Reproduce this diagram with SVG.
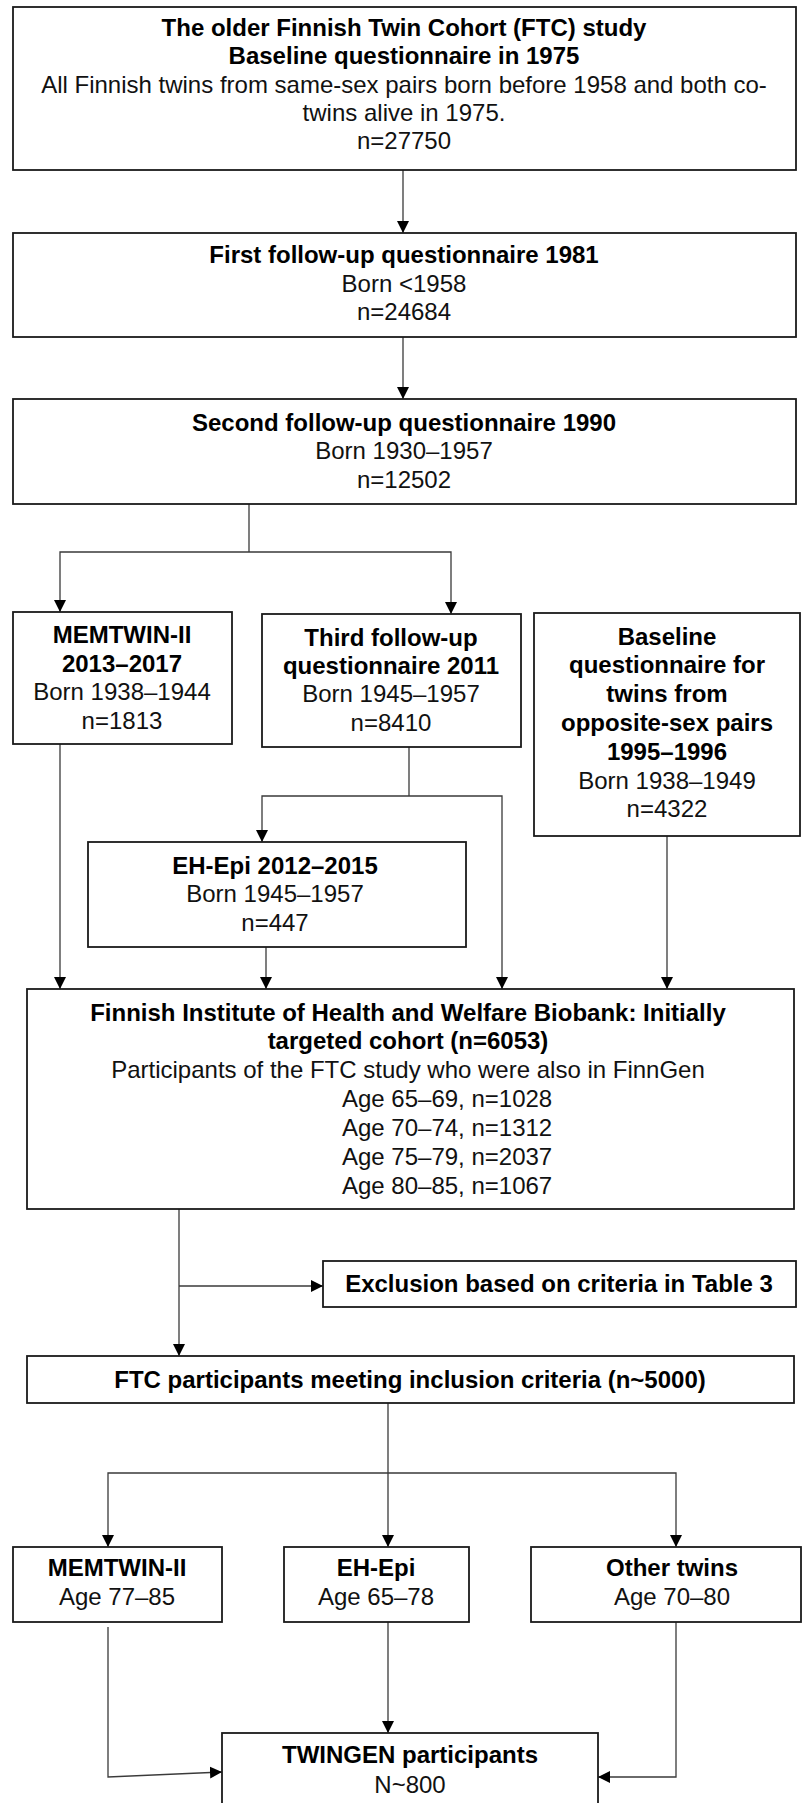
<svg xmlns="http://www.w3.org/2000/svg" width="806" height="1803" viewBox="0 0 806 1803">
<defs>
<style>
.box{fill:#fff;stroke:#1a1a1a;stroke-width:1.8}
.t{font-family:"Liberation Sans",Arial,sans-serif;font-size:24px;fill:#111;text-anchor:middle}
.b{font-weight:bold;fill:#000}
.l{text-anchor:start}
.c{fill:none;stroke:#3a3a3a;stroke-width:1.3}
</style>
<marker id="ah" markerUnits="userSpaceOnUse" markerWidth="12" markerHeight="12" viewBox="0 0 11 11" refX="11" refY="5.5" orient="auto">
<path d="M0,0 L11,5.5 L0,11 Z" fill="#000"/>
</marker>
</defs>
<rect width="806" height="1803" fill="#fff"/>

<g id="connectors">
<path class="c" d="M403,170 V233" marker-end="url(#ah)"/>
<path class="c" d="M403,337 V399" marker-end="url(#ah)"/>
<path class="c" d="M249,504 V552"/>
<path class="c" d="M249,552 H60 V612" marker-end="url(#ah)"/>
<path class="c" d="M249,552 H451 V614" marker-end="url(#ah)"/>
<path class="c" d="M60,744 V989" marker-end="url(#ah)"/>
<path class="c" d="M409,747 V796"/>
<path class="c" d="M409,796 H262 V842" marker-end="url(#ah)"/>
<path class="c" d="M409,796 H502 V989" marker-end="url(#ah)"/>
<path class="c" d="M266,947 V989" marker-end="url(#ah)"/>
<path class="c" d="M667,836 V989" marker-end="url(#ah)"/>
<path class="c" d="M179,1209 V1356" marker-end="url(#ah)"/>
<path class="c" d="M179,1286 H323" marker-end="url(#ah)"/>
<path class="c" d="M388,1403 V1473"/>
<path class="c" d="M388,1473 H108 V1547" marker-end="url(#ah)"/>
<path class="c" d="M388,1473 V1547" marker-end="url(#ah)"/>
<path class="c" d="M388,1473 H676 V1547" marker-end="url(#ah)"/>
<path class="c" d="M108,1627 V1777 L222,1772" marker-end="url(#ah)"/>
<path class="c" d="M388,1622 V1733" marker-end="url(#ah)"/>
<path class="c" d="M676,1622 V1777 H598" marker-end="url(#ah)"/>
</g>

<g id="baseline1975">
<rect class="box" x="13" y="7" width="783" height="163"/>
<text class="t b" x="404" y="36">The older Finnish Twin Cohort (FTC) study</text>
<text class="t b" x="404" y="64">Baseline questionnaire in 1975</text>
<text class="t" x="404" y="93">All Finnish twins from same-sex pairs born before 1958 and both co-</text>
<text class="t" x="404" y="121">twins alive in 1975.</text>
<text class="t" x="404" y="149">n=27750</text>
</g>

<g id="followup1981">
<rect class="box" x="13" y="233" width="783" height="104"/>
<text class="t b" x="404" y="263">First follow-up questionnaire 1981</text>
<text class="t" x="404" y="292">Born &lt;1958</text>
<text class="t" x="404" y="320">n=24684</text>
</g>

<g id="followup1990">
<rect class="box" x="13" y="399" width="783" height="105"/>
<text class="t b" x="404" y="431">Second follow-up questionnaire 1990</text>
<text class="t" x="404" y="459">Born 1930–1957</text>
<text class="t" x="404" y="488">n=12502</text>
</g>

<g id="memtwin1">
<rect class="box" x="13" y="612" width="219" height="132"/>
<text class="t b" x="122" y="643">MEMTWIN-II</text>
<text class="t b" x="122" y="672">2013–2017</text>
<text class="t" x="122" y="700">Born 1938–1944</text>
<text class="t" x="122" y="729">n=1813</text>
</g>

<g id="followup2011">
<rect class="box" x="262" y="614" width="259" height="133"/>
<text class="t b" x="391" y="646">Third follow-up</text>
<text class="t b" x="391" y="674">questionnaire 2011</text>
<text class="t" x="391" y="702">Born 1945–1957</text>
<text class="t" x="391" y="731">n=8410</text>
</g>

<g id="oppositesex">
<rect class="box" x="534" y="613" width="266" height="223"/>
<text class="t b" x="667" y="645">Baseline</text>
<text class="t b" x="667" y="673">questionnaire for</text>
<text class="t b" x="667" y="702">twins from</text>
<text class="t b" x="667" y="731">opposite-sex pairs</text>
<text class="t b" x="667" y="760">1995–1996</text>
<text class="t" x="667" y="789">Born 1938–1949</text>
<text class="t" x="667" y="817">n=4322</text>
</g>

<g id="ehepi1">
<rect class="box" x="88" y="842" width="378" height="105"/>
<text class="t b" x="275" y="874">EH-Epi 2012–2015</text>
<text class="t" x="275" y="902">Born 1945–1957</text>
<text class="t" x="275" y="931">n=447</text>
</g>

<g id="biobank">
<rect class="box" x="27" y="989" width="767" height="220"/>
<text class="t b" x="408" y="1021">Finnish Institute of Health and Welfare Biobank: Initially</text>
<text class="t b" x="408" y="1049">targeted cohort (n=6053)</text>
<text class="t" x="408" y="1078">Participants of the FTC study who were also in FinnGen</text>
<text class="t l" x="342" y="1107">Age 65–69, n=1028</text>
<text class="t l" x="342" y="1136">Age 70–74, n=1312</text>
<text class="t l" x="342" y="1165">Age 75–79, n=2037</text>
<text class="t l" x="342" y="1194">Age 80–85, n=1067</text>
</g>

<g id="exclusion">
<rect class="box" x="323" y="1261" width="473" height="46"/>
<text class="t b" x="559" y="1292">Exclusion based on criteria in Table 3</text>
</g>

<g id="inclusion">
<rect class="box" x="27" y="1356" width="767" height="47"/>
<text class="t b" x="410" y="1388">FTC participants meeting inclusion criteria (n~5000)</text>
</g>

<g id="memtwin2">
<rect class="box" x="13" y="1547" width="209" height="75"/>
<text class="t b" x="117" y="1576">MEMTWIN-II</text>
<text class="t" x="117" y="1605">Age 77–85</text>
</g>

<g id="ehepi2">
<rect class="box" x="284" y="1547" width="185" height="75"/>
<text class="t b" x="376" y="1576">EH-Epi</text>
<text class="t" x="376" y="1605">Age 65–78</text>
</g>

<g id="othertwins">
<rect class="box" x="531" y="1547" width="270" height="75"/>
<text class="t b" x="672" y="1576">Other twins</text>
<text class="t" x="672" y="1605">Age 70–80</text>
</g>

<g id="twingen">
<rect class="box" x="222" y="1733" width="376" height="90"/>
<text class="t b" x="410" y="1763">TWINGEN participants</text>
<text class="t" x="410" y="1793">N~800</text>
</g>
</svg>
